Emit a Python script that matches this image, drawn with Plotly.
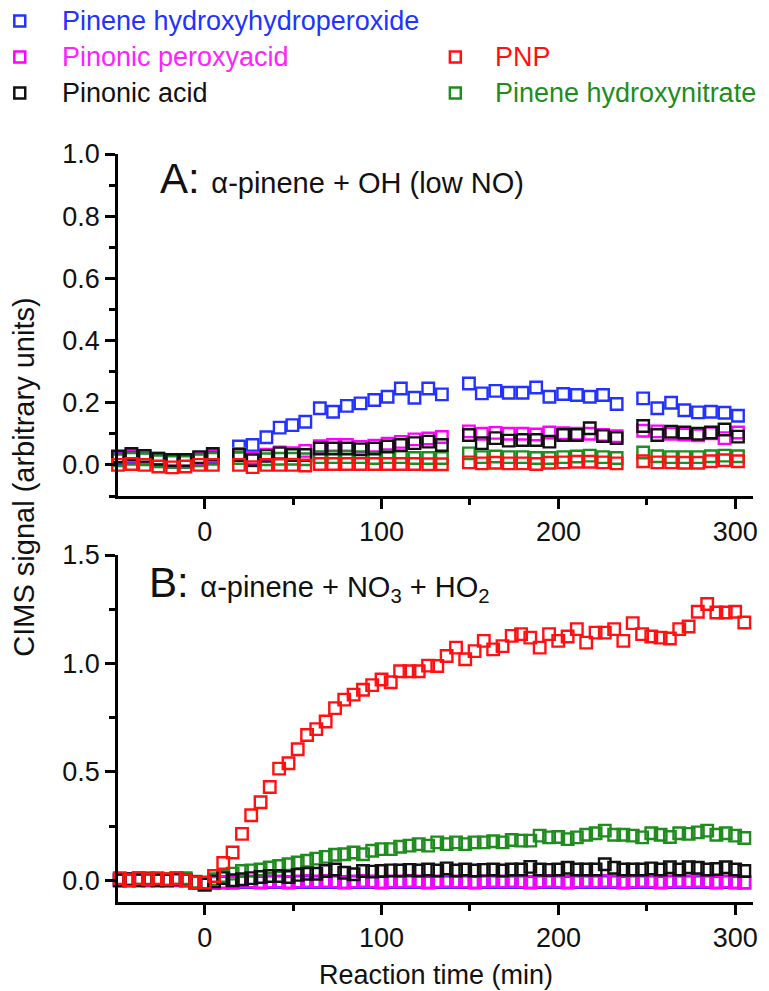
import plotly.graph_objects as go

# ---------------- data ----------------
# Panel A: alpha-pinene + OH (low NO)
t_a = [-49, -41.4, -33.9, -26.2, -18.4, -10.9, -3.1, 4.6,
       19.4, 27.1, 34.9, 42.4, 49.6, 56.9, 65.1, 72.6, 80.4, 88.1, 95.9, 103.4, 110.9, 118.6, 126.4, 134.1,
       149.4, 156.7, 164.4, 171.9, 179.7, 187.4, 194.9, 202.7, 210.4, 217.7, 225.2, 232.9,
       247.9, 255.9, 263.7, 271.2, 278.9, 286.2, 293.9, 301.5]

a_hhp = [0.02, 0.025, 0.02, 0.015, 0.01, 0.01, 0.02, 0.025,
         0.059, 0.064, 0.089, 0.12, 0.128, 0.139, 0.182, 0.171, 0.19, 0.198, 0.209, 0.219, 0.246, 0.216, 0.246, 0.227,
         0.262, 0.23, 0.238, 0.232, 0.232, 0.249, 0.219, 0.228, 0.225, 0.219, 0.225, 0.196,
         0.214, 0.182, 0.2, 0.176, 0.169, 0.171, 0.168, 0.158]
a_ppa = [0.025, 0.03, 0.025, 0.02, 0.015, 0.015, 0.022, 0.03,
         0.035, 0.022, 0.033, 0.04, 0.038, 0.045, 0.06, 0.064, 0.064, 0.058, 0.062, 0.068, 0.074, 0.082, 0.085, 0.09,
         0.108, 0.1, 0.103, 0.1, 0.1, 0.098, 0.104, 0.102, 0.1, 0.1, 0.096, 0.092,
         0.11, 0.108, 0.1, 0.098, 0.095, 0.102, 0.086, 0.104]
a_pa = [0.027, 0.035, 0.029, 0.02, 0.016, 0.016, 0.025, 0.035,
        0.032, 0.016, 0.029, 0.037, 0.032, 0.032, 0.053, 0.053, 0.053, 0.05, 0.053, 0.059, 0.064, 0.07, 0.075, 0.064,
        0.096, 0.07, 0.086, 0.078, 0.08, 0.08, 0.075, 0.096, 0.096, 0.118, 0.093, 0.086,
        0.125, 0.096, 0.107, 0.104, 0.1, 0.104, 0.114, 0.091]
a_hn = [0.015, 0.02, 0.018, 0.012, 0.01, 0.01, 0.015, 0.02,
        0.022, 0.015, 0.018, 0.02, 0.02, 0.018, 0.025, 0.025, 0.025, 0.025, 0.022, 0.025, 0.025, 0.022, 0.022, 0.022,
        0.037, 0.025, 0.027, 0.025, 0.025, 0.022, 0.022, 0.025, 0.027, 0.03, 0.025, 0.022,
        0.04, 0.028, 0.025, 0.025, 0.025, 0.028, 0.03, 0.028]
a_pnp = [0.0, 0.003, 0.0, -0.005, -0.008, -0.005, 0.0, 0.0,
         0.0, -0.007, 0.0, 0.0, 0.0, -0.002, 0.003, 0.003, 0.003, 0.003, 0.003, 0.003, 0.003, 0.003, 0.002, 0.002,
         0.008, 0.005, 0.007, 0.005, 0.005, 0.003, 0.007, 0.008, 0.01, 0.01, 0.008, 0.005,
         0.012, 0.008, 0.008, 0.007, 0.007, 0.012, 0.015, 0.012]

# Panel B: alpha-pinene + NO3 + HO2
t_b = [-48, -42.7, -37.3, -32, -26.7, -21.3, -16, -10.7, -5.3, 0,
       5.3, 10.5, 15.8, 21.1, 26.3, 31.6, 36.8, 42.1, 47.4, 52.6,
       57.9, 63.1, 68.4, 73.7, 78.9, 84.2, 89.5, 94.7, 100, 105.2,
       110.5, 115.8, 121, 126.3, 131.5, 136.8, 142.1, 147.3, 152.6, 157.8,
       163.1, 168.4, 173.6, 178.9, 184.1, 189.4, 194.7, 199.9, 205.2, 210.4,
       215.7, 221, 226.2, 231.5, 236.7, 242, 247.3, 252.5, 257.8, 263,
       268.3, 273.6, 278.8, 284.1, 289.3, 294.6, 299.9, 305.1]

b_pnp = [0.01, 0.0, 0.01, 0.005, 0.01, 0.005, 0.01, 0.0, -0.01, -0.01,
         0.02, 0.08, 0.128, 0.214, 0.30, 0.36, 0.43, 0.515, 0.54, 0.604,
         0.67, 0.697, 0.732, 0.794, 0.833, 0.856, 0.879, 0.90, 0.926, 0.913,
         0.964, 0.964, 0.964, 0.99, 0.988, 1.034, 1.073, 1.019, 1.057, 1.104,
         1.065, 1.08, 1.127, 1.135, 1.119, 1.073, 1.135, 1.104, 1.124, 1.158,
         1.096, 1.142, 1.142, 1.158, 1.104, 1.186, 1.135, 1.124, 1.119, 1.115,
         1.158, 1.17, 1.238, 1.274, 1.235, 1.235, 1.238, 1.189]
b_hn = [0.005, 0.0, 0.01, 0.01, 0.005, 0.005, 0.01, 0.01, -0.006, -0.015,
        0.005, 0.02, 0.031, 0.043, 0.046, 0.05, 0.059, 0.066, 0.074, 0.082,
        0.09, 0.10, 0.108, 0.118, 0.12, 0.128, 0.12, 0.136, 0.144, 0.144,
        0.155, 0.16, 0.167, 0.16, 0.175, 0.167, 0.175, 0.167, 0.175, 0.175,
        0.18, 0.175, 0.186, 0.183, 0.183, 0.206, 0.198, 0.20, 0.19, 0.198,
        0.21, 0.217, 0.229, 0.21, 0.21, 0.206, 0.198, 0.217, 0.21, 0.2,
        0.217, 0.214, 0.221, 0.229, 0.21, 0.217, 0.206, 0.195]
b_pa = [0.0, 0.005, 0.0, 0.005, 0.0, 0.0, 0.005, 0.0, -0.01, -0.02,
        -0.005, 0.01, 0.0, 0.005, 0.01, 0.015, 0.02, 0.02, 0.015, 0.025,
        0.03, 0.03, 0.043, 0.05, 0.035, 0.028, 0.043, 0.04, 0.043, 0.046,
        0.045, 0.048, 0.045, 0.05, 0.045, 0.055, 0.045, 0.05, 0.045, 0.048,
        0.05, 0.045, 0.05, 0.05, 0.062, 0.05, 0.048, 0.05, 0.058, 0.05,
        0.05, 0.05, 0.074, 0.058, 0.05, 0.05, 0.05, 0.055, 0.05, 0.06,
        0.05, 0.06, 0.058, 0.05, 0.052, 0.06, 0.05, 0.043]
b_ppa = [0.0, 0.005, 0.0, 0.0, 0.005, 0.0, 0.0, 0.0, -0.01, -0.02,
         -0.01, -0.008, -0.01, -0.005, -0.005, -0.008, -0.005, -0.005, -0.008, -0.005,
         -0.003, -0.005, -0.003, -0.005, -0.008, -0.005, -0.003, -0.005, -0.008, -0.005,
         -0.005, -0.003, -0.005, -0.008, -0.005, -0.003, -0.005, -0.005, -0.008, -0.005,
         -0.003, -0.005, -0.003, -0.005, -0.008, -0.005, -0.003, -0.005, -0.008, -0.005,
         -0.003, -0.005, -0.003, -0.005, -0.008, -0.005, -0.003, -0.005, -0.008, -0.005,
         -0.003, -0.005, -0.003, -0.005, -0.008, -0.005, -0.008, -0.01]
b_hhp = [0.0, 0.0, 0.005, 0.0, 0.0, 0.0, 0.005, 0.0, -0.01, -0.02,
         -0.012, -0.01, -0.01, -0.008, -0.008, -0.01, -0.008, -0.008, -0.01, -0.008,
         -0.008, -0.008, -0.008, -0.008, -0.01, -0.008, -0.008, -0.008, -0.01, -0.008,
         -0.008, -0.008, -0.008, -0.01, -0.008, -0.008, -0.008, -0.008, -0.01, -0.008,
         -0.008, -0.008, -0.008, -0.008, -0.01, -0.008, -0.008, -0.008, -0.01, -0.008,
         -0.008, -0.008, -0.008, -0.008, -0.01, -0.008, -0.008, -0.008, -0.01, -0.008,
         -0.008, -0.008, -0.008, -0.008, -0.01, -0.008, -0.01, -0.01]

names = ["Pinene hydroxyhydroperoxide", "Pinonic peroxyacid", "Pinonic acid", "PNP", "Pinene hydroxynitrate"]
colors = {"Pinene hydroxyhydroperoxide": "#2233ff", "Pinonic peroxyacid": "#ff00ff",
          "Pinonic acid": "#111111", "PNP": "#ff1111", "Pinene hydroxynitrate": "#1e8c1e"}
text_colors = {"Pinene hydroxyhydroperoxide": "#2233ff", "Pinonic peroxyacid": "#ff22ff",
               "Pinonic acid": "#111111", "PNP": "#ff1111", "Pinene hydroxynitrate": "#1e8c1e"}

series_a = {"Pinene hydroxyhydroperoxide": a_hhp, "Pinonic peroxyacid": a_ppa, "Pinonic acid": a_pa,
            "PNP": a_pnp, "Pinene hydroxynitrate": a_hn}
series_b = {"Pinene hydroxyhydroperoxide": b_hhp, "Pinonic peroxyacid": b_ppa, "Pinonic acid": b_pa,
            "PNP": b_pnp, "Pinene hydroxynitrate": b_hn}
draw_order = ["Pinene hydroxyhydroperoxide", "Pinonic peroxyacid", "Pinene hydroxynitrate", "Pinonic acid", "PNP"]

# ---------------- figure ----------------
W, H = 769, 991
ML, MR, MT, MB = 118, 11, 154, 89
PW, PH = W - ML - MR, H - MT - MB
def px_x(p):
    return (p - ML) / PW
def px_y(p):
    return (H - MB - p) / PH

FONT = "Liberation Sans"
fig = go.Figure()
msize, mlw = 11.5, 2.4
for nm in draw_order:
    fig.add_trace(go.Scatter(x=t_a, y=series_a[nm], mode="markers", name=nm, showlegend=False,
                             xaxis="x", yaxis="y", cliponaxis=False,
                             marker=dict(symbol="square-open", size=msize, color=colors[nm],
                                         line=dict(width=mlw, color=colors[nm]))))
for nm in draw_order:
    fig.add_trace(go.Scatter(x=t_b, y=series_b[nm], mode="markers", name=nm, showlegend=False,
                             xaxis="x2", yaxis="y2", cliponaxis=False,
                             marker=dict(symbol="square-open", size=msize, color=colors[nm],
                                         line=dict(width=mlw, color=colors[nm]))))

xcommon = dict(range=[-49, 310], tick0=0, dtick=100, ticks="outside", ticklen=10, tickwidth=2.5,
               showline=True, linewidth=2.5, linecolor="black", tickcolor="black",
               showgrid=False, zeroline=False,
               tickfont=dict(family=FONT, size=27, color="#111111"),
               minor=dict(dtick=50, ticks="outside", ticklen=6, tickwidth=2.5, tickcolor="black"))
ycommon = dict(ticks="outside", ticklen=10, tickwidth=2.5,
               showline=True, linewidth=2.5, linecolor="black", tickcolor="black",
               showgrid=False, zeroline=False, tickformat=".1f",
               tickfont=dict(family=FONT, size=27, color="#111111"))

yA_top, yA_bot = px_y(154), px_y(496)
yB_top = px_y(555)

fig.update_layout(
    width=W, height=H, margin=dict(l=ML, r=MR, t=MT, b=MB),
    plot_bgcolor="white", paper_bgcolor="white", showlegend=False,
    font=dict(family=FONT, size=27, color="#111111"),
    xaxis=dict(**xcommon, domain=[0, 1], anchor="y"),
    yaxis=dict(**ycommon, domain=[yA_bot, yA_top], anchor="x", range=[-0.1, 1.0], tick0=0, dtick=0.2,
               minor=dict(dtick=0.1, ticks="outside", ticklen=6, tickwidth=2.5, tickcolor="black")),
    xaxis2=dict(**xcommon, domain=[0, 1], anchor="y2"),
    yaxis2=dict(**ycommon, domain=[0, yB_top], anchor="x2", range=[-0.1, 1.5], tick0=0, dtick=0.5,
                minor=dict(dtick=0.25, ticks="outside", ticklen=6, tickwidth=2.5, tickcolor="black")),
)

ann = []
shapes = []
# legend (custom two-column layout)
legend_pos = {"Pinene hydroxyhydroperoxide": (19, 60, 21), "Pinonic peroxyacid": (19, 60, 57),
              "Pinonic acid": (19, 60, 93), "PNP": (458, 496, 57), "Pinene hydroxynitrate": (458, 496, 93)}
for nm in names:
    mx, tx, py = legend_pos[nm]
    shapes.append(dict(type="rect", xref="paper", yref="paper",
                       x0=px_x(mx - 5.5), x1=px_x(mx + 5.5), y0=px_y(py + 5.5), y1=px_y(py - 5.5),
                       line=dict(color=colors[nm], width=2.5), fillcolor="rgba(0,0,0,0)"))
    ann.append(dict(text=nm, xref="paper", yref="paper", x=px_x(tx), y=px_y(py), xanchor="left",
                    yanchor="middle", showarrow=False,
                    font=dict(family=FONT, size=27, color=text_colors[nm])))

# panel labels
ann.append(dict(text="A: <span style='font-size:29px'>α-pinene + OH (low NO)</span>", xref="paper", yref="paper",
                x=px_x(158), y=px_y(178), xanchor="left", yanchor="middle", showarrow=False,
                font=dict(family=FONT, size=42, color="#111111")))
ann.append(dict(text="B: <span style='font-size:29px'>α-pinene + NO<sub>3</sub> + HO<sub>2</sub></span>",
                xref="paper", yref="paper",
                x=px_x(147), y=px_y(583), xanchor="left", yanchor="middle", showarrow=False,
                font=dict(family=FONT, size=42, color="#111111")))

# axis titles
ann.append(dict(text="Reaction time (min)", xref="paper", yref="paper", x=0.5, y=px_y(975),
                xanchor="center", yanchor="middle", showarrow=False,
                font=dict(family=FONT, size=27, color="#111111")))
ann.append(dict(text="CIMS signal (arbitrary units)", xref="paper", yref="paper", x=px_x(23), y=px_y(477),
                xanchor="center", yanchor="middle", showarrow=False, textangle=-90,
                font=dict(family=FONT, size=29, color="#111111")))

fig.update_layout(annotations=ann, shapes=shapes)
fig.write_html("out.html")
